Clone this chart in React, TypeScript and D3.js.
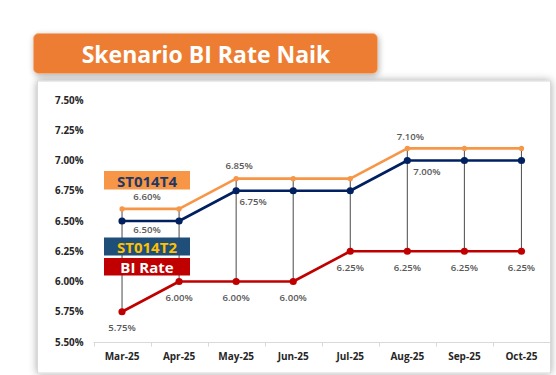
import React from "react";
import * as d3 from "d3";

const categories = ["Mar-25", "Apr-25", "May-25", "Jun-25", "Jul-25", "Aug-25", "Sep-25", "Oct-25"];
const st014t4 = [6.6, 6.6, 6.85, 6.85, 6.85, 7.1, 7.1, 7.1];
const st014t2 = [6.5, 6.5, 6.75, 6.75, 6.75, 7.0, 7.0, 7.0];
const biRate = [5.75, 6.0, 6.0, 6.0, 6.25, 6.25, 6.25, 6.25];
const yTicks = [5.5, 5.75, 6.0, 6.25, 6.5, 6.75, 7.0, 7.25, 7.5];
const title = "Skenario BI Rate Naik";
const legendNames = ["ST014T4", "ST014T2", "BI Rate"];

// label placement: which points carry a label and where it sits relative to the point
const labelPlacement = [
  { s: 0, i: 0, dx: 25, dy: -12 },
  { s: 0, i: 2, dx: 3, dy: -13 },
  { s: 0, i: 5, dx: 3, dy: -11.5 },
  { s: 1, i: 0, dx: 25, dy: 8.5 },
  { s: 1, i: 2, dx: 17, dy: 11 },
  { s: 1, i: 5, dx: 19.5, dy: 10.5 },
  { s: 2, i: 0, dx: 0, dy: 16 },
  { s: 2, i: 1, dx: 0, dy: 16 },
  { s: 2, i: 2, dx: 0, dy: 16 },
  { s: 2, i: 3, dx: 0, dy: 16 },
  { s: 2, i: 4, dx: 0, dy: 16 },
  { s: 2, i: 5, dx: 0, dy: 16 },
  { s: 2, i: 6, dx: 0, dy: 16 },
  { s: 2, i: 7, dx: 0, dy: 16 },
];

export default function App() {
  const W = 556, H = 375;
  const x = d3.scaleBand<string>().domain(categories).range([93.5, 550]);
  const y = d3.scaleLinear().domain([5.5, 7.5]).range([342, 100]);
  const cx = (i: number) => (x(categories[i]) as number) + x.bandwidth() / 2;
  const series = [st014t4, st014t2, biRate];
  const colors = ["#F79646", "#002060", "#C00000"];
  const radii = [2.6, 3.6, 3.6];
  const line = (vals: number[]) =>
    d3.line<number>().x((_, i) => cx(i)).y((v) => y(v))(vals) as string;
  const fmt = (v: number) => v.toFixed(2) + "%";
  const font = "'Open Sans', 'DejaVu Sans', sans-serif";

  const legend = [
    { name: legendNames[0], y0: 171, y1: 189.5, fill: "#F79646", color: "#1F3864" },
    { name: legendNames[1], y0: 237.5, y1: 255.5, fill: "#1F4E79", color: "#FFC000" },
    { name: legendNames[2], y0: 258, y1: 275.5, fill: "#C00000", color: "#FFFFFF" },
  ];

  return (
    <svg width={W} height={H} style={{ position: "absolute", left: 0, top: 0, background: "#fff" }}>
      <defs>
        <filter id="sh" x="-10%" y="-10%" width="120%" height="130%">
          <feGaussianBlur in="SourceAlpha" stdDeviation="4" />
          <feOffset dx="0" dy="0" result="b" />
          <feComponentTransfer><feFuncA type="linear" slope="0.35" /></feComponentTransfer>
          <feMerge><feMergeNode /><feMergeNode in="SourceGraphic" /></feMerge>
        </filter>
        <filter id="sh2" x="-10%" y="-30%" width="120%" height="170%">
          <feGaussianBlur in="SourceAlpha" stdDeviation="3" />
          <feOffset dx="1" dy="2" result="b" />
          <feComponentTransfer><feFuncA type="linear" slope="0.3" /></feComponentTransfer>
          <feMerge><feMergeNode /><feMergeNode in="SourceGraphic" /></feMerge>
        </filter>
      </defs>
      {/* chart box */}
      <rect x={37.5} y={81} width={513} height={292} fill="#fff" stroke="#D9D9D9" strokeWidth={1} filter="url(#sh)" />

      {/* title */}
      <rect x={33.5} y={33.5} width={344} height={40} rx={5} fill="#ED7D31" stroke="#F4B183" strokeWidth={0.8} filter="url(#sh2)" />
      <text x={206} y={54} textAnchor="middle" dominantBaseline="central" fill="#fff" fontFamily={font} fontWeight={700} fontSize={23}>
        {title}
      </text>

      {/* y ticks */}
      {yTicks.map((t) => (
        <text key={t} x={83.5} y={y(t)} textAnchor="end" dominantBaseline="central" fontFamily={font} fontWeight={700} fontSize={9.8} fill="#262626">
          {fmt(t)}
        </text>
      ))}

      {/* x axis */}
      <line x1={93.5} x2={550} y1={342.5} y2={342.5} stroke="#D9D9D9" strokeWidth={1} />
      {d3.range(categories.length + 1).map((k) => {
        const xx = Math.round(93.5 + k * x.step()) + 0.5;
        return <line key={k} x1={xx} x2={xx} y1={342.5} y2={346.5} stroke="#D9D9D9" strokeWidth={1} />;
      })}
      {categories.map((c, i) => (
        <text key={c} x={cx(i)} y={355.5} textAnchor="middle" dominantBaseline="central" fontFamily={font} fontWeight={700} fontSize={10} fill="#262626">
          {c}
        </text>
      ))}

      {/* drop lines */}
      {categories.map((c, i) => (
        <line key={"d" + c} x1={cx(i)} x2={cx(i)} y1={y(st014t4[i])} y2={y(biRate[i])} stroke="#595959" strokeWidth={1.1} />
      ))}

      {/* series */}
      {series.map((vals, s) => (
        <g key={s}>
          <path d={line(vals)} fill="none" stroke={colors[s]} strokeWidth={2.6} strokeLinejoin="round" />
          {vals.map((v, i) => (
            <circle key={i} cx={cx(i)} cy={y(v)} r={radii[s]} fill={colors[s]} />
          ))}
        </g>
      ))}

      {/* data labels */}
      {labelPlacement.map((p, k) => {
        const v = series[p.s][p.i];
        return (
          <text key={k} x={cx(p.i) + p.dx} y={y(v) + p.dy} textAnchor="middle" dominantBaseline="central" fontFamily={font} fontWeight={600} fontSize={9.6} fill="#595959">
            {fmt(v)}
          </text>
        );
      })}

      {/* legend boxes */}
      {legend.map((l) => (
        <g key={l.name}>
          <rect x={104} y={l.y0} width={86} height={l.y1 - l.y0} fill={l.fill} />
          <text x={147} y={(l.y0 + l.y1) / 2 + 0.5} textAnchor="middle" dominantBaseline="central" fontFamily={font} fontWeight={700} fontSize={15} fill={l.color}>
            {l.name}
          </text>
        </g>
      ))}
    </svg>
  );
}
